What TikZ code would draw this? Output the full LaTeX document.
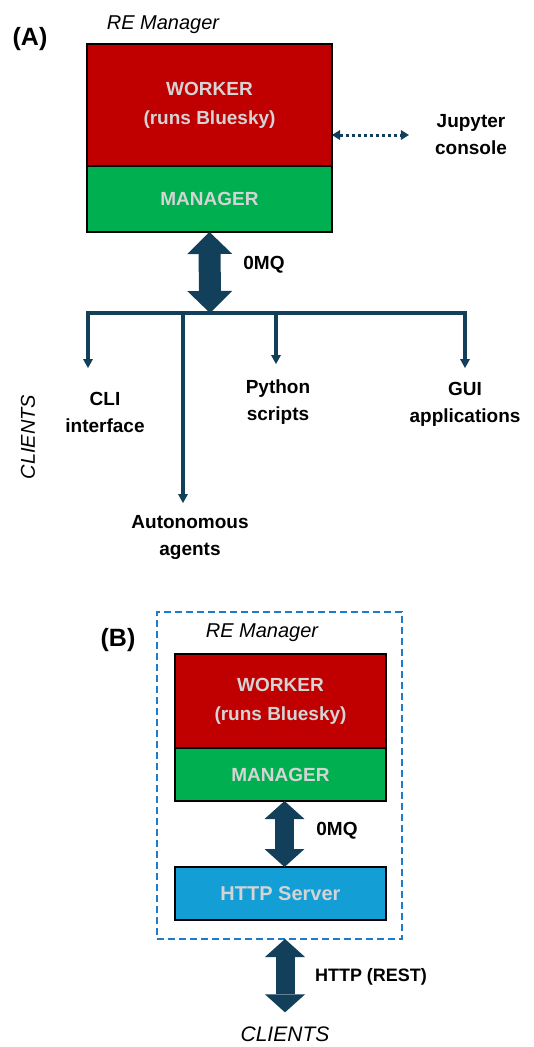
\documentclass[tikz,border=0pt]{standalone}
\usepackage{fontspec}
\setmainfont{Liberation Sans}
\usetikzlibrary{arrows.meta,positioning}
\definecolor{wkred}{HTML}{C00000}
\definecolor{mgrgreen}{HTML}{00B050}
\definecolor{srvblue}{HTML}{139ED6}
\definecolor{dashblue}{HTML}{1A7CCB}
\definecolor{navy}{HTML}{123F5A}
\definecolor{boxtext}{HTML}{D4D4D4}
\tikzset{
	unitbox/.style={draw=black,line width=1.5pt,outer sep=0pt,inner sep=0pt,align=center,text=boxtext,font=\fontsize{19}{29}\selectfont\bfseries},
	lbl/.style={inner sep=0pt,align=center,font=\fontsize{19}{27}\selectfont\bfseries},
	tag/.style={inner sep=0pt,font=\fontsize{25}{30}\selectfont\bfseries},
	ital/.style={inner sep=0pt,font=\fontsize{20}{24}\selectfont\itshape},
	fatlink/.style={draw=navy,line width=22pt,{Triangle[width=45pt,length=22pt,line width=0pt]}-{Triangle[width=45pt,length=22pt,line width=0pt]}},
	fatlinkB/.style={draw=navy,line width=19pt,{Triangle[width=40pt,length=18pt,line width=0pt]}-{Triangle[width=40pt,length=18pt,line width=0pt]}},
	dotlink/.style={draw=navy,line width=3pt,dash pattern=on 3pt off 3pt,{Triangle[width=10pt,length=8pt,line width=0pt]}-{Triangle[width=10pt,length=8pt,line width=0pt]}},
	bus/.style={draw=navy,line width=3.5pt,line cap=rect},
	buslink/.style={draw=navy,line width=3.5pt,-{Triangle[width=10pt,length=9pt,line width=0pt]}}
}
\begin{document}
\begin{tikzpicture}[x=1pt,y=-1pt]
	\useasboundingbox (0,0) rectangle (534,1047);
	\node[tag] (tagA) at (30,39) {(A)};
	\node[ital] (remA) at (163,25) {RE Manager};
	\node[unitbox,fill=wkred,minimum width=245pt,minimum height=122pt] (workA) at (209.5,105) {WORKER\\(runs Bluesky)};
	\node[unitbox,fill=mgrgreen,minimum width=245pt,minimum height=66pt,below=0pt of workA] (mgrA) {MANAGER};
	\node[lbl] (jup) at (471,135) {Jupyter\\console};
	\draw[dotlink,shorten >=26pt] (workA.east |- jup.west) -- (jup.west);
	\coordinate (hub) at (210,313);
	\draw[fatlink] (mgrA.south) -- (hub);
	\node[lbl] (zmqA) at (264,265) {0MQ};
	\node[lbl] (cli) at (105,412) {CLI\\interface};
	\node[lbl] (pyth) at (278,402) {Python\\scripts};
	\node[lbl] (gui) at (465,404) {GUI\\applications};
	\node[lbl] (agents) at (190,537) {Autonomous\\agents};
	\node[ital,rotate=90] (clientsA) at (28,437) {CLIENTS};
	\coordinate (cliend) at (88,368);
	\coordinate (agentsend) at (183,503);
	\coordinate (pythend) at (276,364);
	\coordinate (guiend) at (465,368);
	\draw[bus] (hub -| cliend) -- (hub -| guiend);
	\foreach \e in {cliend,agentsend,pythend,guiend}
		\draw[buslink] (hub -| \e) -- (\e);

	\node[tag] (tagB) at (118,640) {(B)};
	\node[draw=dashblue,line width=2pt,dash pattern=on 7pt off 4pt,minimum width=245pt,minimum height=327pt,inner sep=0pt,outer sep=0pt] (reB) at (279.5,775.5) {};
	\node[ital] (remB) at (262,633) {RE Manager};
	\node[unitbox,fill=wkred,minimum width=211pt,minimum height=94pt] (workB) at (280.5,701) {WORKER\\(runs Bluesky)};
	\node[unitbox,fill=mgrgreen,minimum width=211pt,minimum height=53pt,below=0pt of workB] (mgrB) {MANAGER};
	\node[unitbox,fill=srvblue,minimum width=211pt,minimum height=53pt,font=\fontsize{20}{24}\selectfont\bfseries] (http) at (280.5,893.5) {HTTP Server};
	\draw[fatlinkB] ([xshift=4pt]mgrB.south) -- ([xshift=4pt]http.north);
	\node[lbl] (zmqB) at (337,831) {0MQ};
	\node[ital,font=\fontsize{21}{24}\selectfont\itshape] (clientsB) at (285,1034) {CLIENTS};
	\draw[fatlinkB,shorten >=14pt] (reB.south -| clientsB.north) -- (clientsB.north);
	\node[lbl,font=\fontsize{18}{24}\selectfont\bfseries] (rest) at (371,977) {HTTP (REST)};
\end{tikzpicture}
\end{document}
